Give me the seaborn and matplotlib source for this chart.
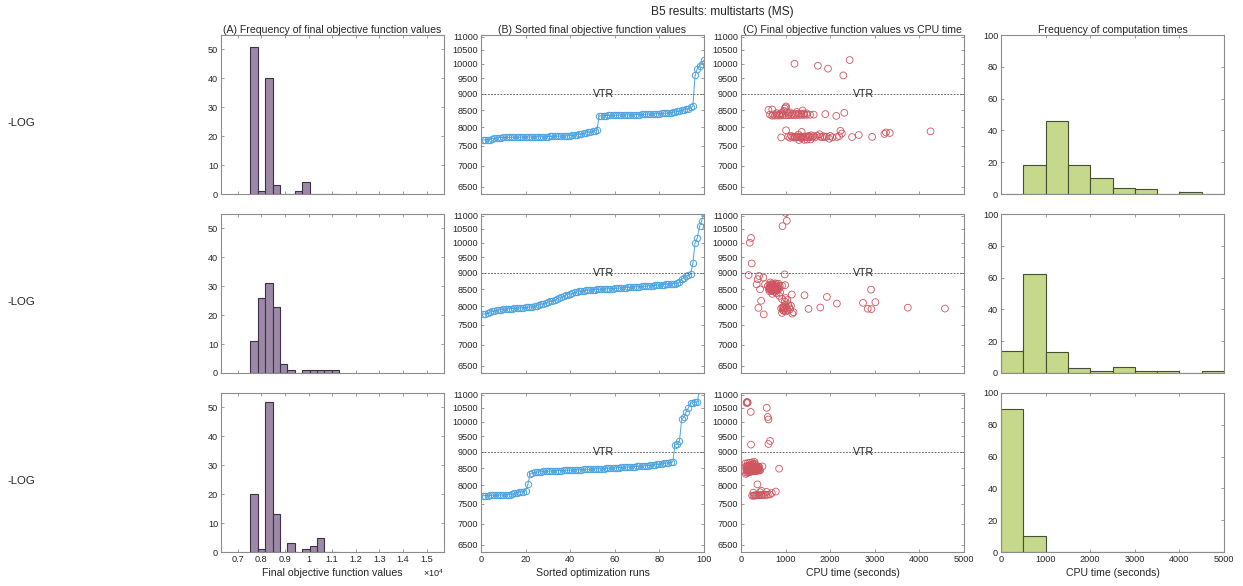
import matplotlib
matplotlib.use("Agg")
import matplotlib.pyplot as plt
import seaborn as sns
from matplotlib.ticker import FixedLocator, FuncFormatter, NullLocator

sns.set_theme(style="white")
plt.rcParams['font.family'] = ['Liberation Sans', 'DejaVu Sans']
plt.rcParams['mathtext.fontset'] = 'custom'
plt.rcParams['mathtext.rm'] = 'Liberation Sans'

# ---------------- data ----------------
suptitle = "B5 results: multistarts (MS)"
row_labels = ["-LOG", "-LOG", "-LOG"]
col_titles = ["(A) Frequency of final objective function values",
              "(B) Sorted final objective function values",
              "(C) Final objective function values vs CPU time",
              "Frequency of computation times"]
xlabels = ["Final objective function values", "Sorted optimization runs",
           "CPU time (seconds)", "CPU time (seconds)"]

# (A) histogram of final objective values: bin edges and counts
obj_bin_edges = [7540, 7853, 8166, 8479, 8792, 9105, 9418, 9731, 10044,
                 10357, 10670, 10983, 11296]
obj_counts_r1 = [51, 1, 40, 3, 0, 0, 1, 4, 0, 0, 0, 0]
obj_counts_r2 = [11, 26, 31, 23, 3, 1, 0, 1, 1, 1, 1, 1]
obj_counts_r3 = [20, 1, 52, 13, 0, 3, 0, 1, 2, 5, 0, 0]
obj_xticks = [7000, 8000, 9000, 10000, 11000, 12000, 13000, 14000, 15000]

# (B)/(C) final objective values (sorted) and their CPU times
runs = list(range(1, 101))
values_r1 = [
    7655, 7660, 7665, 7668, 7690, 7705, 7715, 7720, 7722, 7724,
    7725, 7726, 7727, 7728, 7729, 7730, 7731, 7732, 7733, 7734,
    7735, 7736, 7737, 7738, 7739, 7740, 7742, 7744, 7746, 7748,
    7750, 7752, 7754, 7756, 7758, 7760, 7763, 7766, 7770, 7775,
    7782, 7790, 7800, 7810, 7820, 7832, 7845, 7860, 7875, 7890,
    7905, 7920, 8330, 8335, 8338, 8340, 8342, 8344, 8346, 8348,
    8350, 8352, 8354, 8356, 8358, 8360, 8362, 8364, 8366, 8368,
    8370, 8373, 8376, 8379, 8382, 8385, 8388, 8391, 8394, 8397,
    8400, 8405, 8410, 8415, 8420, 8430, 8445, 8460, 8475, 8490,
    8505, 8520, 8545, 8580, 8610, 9600, 9830, 9930, 10000, 10130]
times_r1 = [
    1300, 1420, 1480, 1560, 1980, 1350, 1100, 1180, 1250, 900,
    1600, 1660, 2050, 1380, 1440, 1210, 1500, 1820, 1880, 2150,
    2490, 1270, 1320, 1150, 2940, 1540, 1060, 1780, 1920, 1400,
    1460, 1240, 1340, 1620, 1850, 2200, 2000, 1520, 1120, 1700,
    1580, 2640, 1290, 1760, 3215, 2260, 3336, 3250, 1360, 4250,
    2230, 1010, 2136, 700, 760, 820, 880, 940, 1000, 1060,
    1120, 1180, 1240, 1300, 1360, 1420, 1480, 1550, 1630, 650,
    720, 790, 860, 930, 1890, 1070, 1150, 1220, 1290, 1350,
    1410, 1470, 800, 900, 2316, 1100, 1250, 1030, 960, 1380,
    615, 700, 980, 1000, 1010, 2294, 1950, 1724, 1200, 2436]

values_r2 = [
    7780, 7800, 7820, 7840, 7860, 7875, 7890, 7900, 7910, 7920,
    7925, 7930, 7935, 7940, 7945, 7950, 7955, 7960, 7965, 7970,
    7975, 7980, 7990, 8000, 8020, 8040, 8060, 8080, 8100, 8120,
    8140, 8160, 8180, 8210, 8240, 8270, 8300, 8320, 8340, 8360,
    8380, 8400, 8420, 8435, 8445, 8455, 8462, 8468, 8474, 8480,
    8485, 8490, 8494, 8498, 8502, 8506, 8510, 8514, 8518, 8522,
    8526, 8530, 8535, 8540, 8545, 8550, 8555, 8560, 8565, 8570,
    8575, 8580, 8585, 8590, 8596, 8602, 8608, 8614, 8620, 8626,
    8632, 8638, 8644, 8650, 8656, 8662, 8668, 8675, 8700, 8800,
    8850, 8900, 8930, 8950, 9300, 10000, 10170, 10600, 10800, 11100]
times_r2 = [
    510, 1150, 920, 1177, 1000, 960, 1050, 940, 980, 1100,
    2924, 1514, 2841, 4573, 900, 1020, 960, 390, 3740, 1777,
    930, 1080, 950, 1010, 1120, 990, 1060, 2150, 2736, 3013,
    980, 450, 1040, 920, 1000, 1926, 860, 1424, 1140, 700,
    800, 880, 760, 640, 720, 690, 780, 820, 660, 740,
    2916, 700, 427, 760, 800, 620, 850, 680, 730, 770,
    640, 700, 790, 830, 660, 720, 750, 810, 690, 760,
    640, 700, 870, 600, 735, 920, 680, 780, 990, 710,
    640, 750, 352, 540, 800, 840, 700, 770, 660, 375,
    502, 405, 170, 980, 240, 195, 225, 930, 1027, 1000]

values_r3 = [
    7715, 7720, 7722, 7724, 7726, 7728, 7730, 7732, 7734, 7736,
    7738, 7740, 7745, 7750, 7790, 7800, 7810, 7820, 7830, 7850,
    8030, 8330, 8360, 8375, 8385, 8390, 8395, 8400, 8404, 8408,
    8412, 8416, 8420, 8423, 8426, 8429, 8432, 8435, 8438, 8441,
    8444, 8447, 8450, 8453, 8456, 8459, 8462, 8465, 8468, 8471,
    8474, 8477, 8480, 8484, 8488, 8492, 8496, 8500, 8504, 8508,
    8512, 8516, 8520, 8524, 8528, 8532, 8536, 8540, 8545, 8550,
    8555, 8560, 8566, 8572, 8578, 8585, 8592, 8600, 8610, 8620,
    8630, 8640, 8650, 8660, 8675, 8690, 9230, 9250, 9350, 10080,
    10170, 10350, 10500, 10680, 10690, 10700, 10720, 11200, 11300, 11500]
times_r3 = [
    250, 280, 300, 320, 340, 360, 390, 420, 450, 480,
    520, 560, 600, 650, 690, 277, 427, 577, 780, 460,
    367, 110, 130, 150, 170, 190, 210, 230, 250, 270,
    290, 310, 330, 350, 370, 390, 410, 430, 120, 140,
    160, 180, 200, 220, 240, 260, 280, 300, 320, 340,
    360, 380, 400, 855, 125, 145, 165, 185, 205, 225,
    245, 265, 285, 305, 325, 345, 365, 385, 405, 480,
    115, 135, 155, 175, 195, 215, 235, 255, 275, 295,
    315, 100, 150, 200, 250, 300, 225, 615, 652, 615,
    600, 217, 577, 127, 150, 140, 135, 120, 130, 160]

vtr = 9000
obj_yticks = [6500, 7000, 7500, 8000, 8500, 9000, 9500, 10000, 10500, 11000]

# (D) histogram of computation times
time_bin_edges = [0, 500, 1000, 1500, 2000, 2500, 3000, 3500, 4000, 4500, 5000]
time_counts_r1 = [0, 18, 46, 18, 10, 4, 3, 0, 1, 0]
time_counts_r2 = [14, 62, 13, 3, 1, 4, 1, 1, 0, 1]
time_counts_r3 = [90, 10, 0, 0, 0, 0, 0, 0, 0, 0]

obj_counts = [obj_counts_r1, obj_counts_r2, obj_counts_r3]
values = [values_r1, values_r2, values_r3]
times = [times_r1, times_r2, times_r3]
time_counts = [time_counts_r1, time_counts_r2, time_counts_r3]

# ---------------- style ----------------
purple_face, purple_edge = "#9d89a6", "#3e3048"
blue = "#4da3df"
red = "#cf5560"
green_face, green_edge = "#c5d88c", "#45512f"
spine_col = "#8c8c8c"
text_col = "#262626"
tick_fs = 6.6
lab_fs = 7.6

W, H = 1243, 586
fig = plt.figure(figsize=(W / 100, H / 100), dpi=100)
col_left = [221, 481, 741, 1001]
row_top = [35, 214, 393]
aw, ah = 223, 159


def make_ax(r, c):
    return fig.add_axes([col_left[c] / W, 1 - (row_top[r] + ah) / H, aw / W, ah / H])


def style(ax, bottom_labels):
    for s in ax.spines.values():
        s.set_visible(True)
        s.set_color(spine_col)
        s.set_linewidth(0.8)
    ax.tick_params(which="both", direction="in", length=2.5, width=0.6,
                   color=spine_col, labelsize=tick_fs, labelcolor=text_col,
                   top=True, right=True, bottom=True, left=True,
                   labelbottom=bottom_labels, pad=2)
    ax.grid(False)
    ax.set_xlabel("")
    ax.set_ylabel("")


plain = FuncFormatter(lambda v, p: f"{v:.0f}")

for r in range(3):
    last = (r == 2)

    # (A)
    ax = make_ax(r, 0)
    sns.histplot(x=obj_bin_edges[:-1], weights=obj_counts[r], bins=obj_bin_edges,
                 ax=ax, color=purple_face, edgecolor=purple_edge, linewidth=0.8, alpha=1)
    style(ax, last)
    ax.set_xlim(6290, 15740)
    ax.set_ylim(0, 55)
    ax.xaxis.set_major_locator(FixedLocator(obj_xticks))
    ax.xaxis.set_major_formatter(FuncFormatter(lambda v, p: f"{v / 1e4:g}"))
    ax.yaxis.set_major_locator(FixedLocator([0, 10, 20, 30, 40, 50]))
    if last:
        ax.set_xlabel(xlabels[0], fontsize=lab_fs, color=text_col, labelpad=3)
        ax.text(1.0, -0.135, r"$\times\mathregular{10^{4}}$", transform=ax.transAxes,
                ha="right", va="center", fontsize=tick_fs, color=text_col)
    if r == 0:
        ax.set_title(col_titles[0], fontsize=lab_fs, color=text_col, pad=1.5)

    # (B)
    ax = make_ax(r, 1)
    sns.lineplot(x=runs, y=values[r], ax=ax, color=blue, linewidth=0.7,
                 marker="o", markersize=4.6, markerfacecolor="none",
                 markeredgecolor=blue, markeredgewidth=0.7, sort=False)
    ax.axhline(vtr, color="#555555", linestyle=(0, (2.2, 1.6)), linewidth=0.6)
    ax.text(50, vtr, "VTR", ha="left", va="center", fontsize=lab_fs, color=text_col)
    ax.set_yscale("log")
    style(ax, last)
    ax.set_xlim(0, 100)
    ax.set_ylim(6335, 11060)
    ax.xaxis.set_major_locator(FixedLocator([0, 20, 40, 60, 80, 100]))
    ax.yaxis.set_major_locator(FixedLocator(obj_yticks))
    ax.yaxis.set_major_formatter(plain)
    ax.yaxis.set_minor_locator(NullLocator())
    if last:
        ax.set_xlabel(xlabels[1], fontsize=lab_fs, color=text_col, labelpad=3)
    if r == 0:
        ax.set_title(col_titles[1], fontsize=lab_fs, color=text_col, pad=1.5)

    # (C)
    ax = make_ax(r, 2)
    sns.scatterplot(x=times[r], y=values[r], ax=ax, marker="o", s=24,
                    facecolor="none", edgecolor=red, linewidth=0.6)
    ax.axhline(vtr, color="#555555", linestyle=(0, (2.2, 1.6)), linewidth=0.6)
    ax.text(2500, vtr, "VTR", ha="left", va="center", fontsize=lab_fs, color=text_col)
    ax.set_yscale("log")
    style(ax, last)
    ax.set_xlim(0, 5000)
    ax.set_ylim(6335, 11060)
    ax.xaxis.set_major_locator(FixedLocator([0, 1000, 2000, 3000, 4000, 5000]))
    ax.yaxis.set_major_locator(FixedLocator(obj_yticks))
    ax.yaxis.set_major_formatter(plain)
    ax.yaxis.set_minor_locator(NullLocator())
    if last:
        ax.set_xlabel(xlabels[2], fontsize=lab_fs, color=text_col, labelpad=3)
    if r == 0:
        ax.set_title(col_titles[2], fontsize=lab_fs, color=text_col, pad=1.5)

    # (D)
    ax = make_ax(r, 3)
    sns.histplot(x=time_bin_edges[:-1], weights=time_counts[r], bins=time_bin_edges,
                 ax=ax, color=green_face, edgecolor=green_edge, linewidth=0.8, alpha=1)
    style(ax, last)
    ax.set_xlim(0, 5000)
    ax.set_ylim(0, 100)
    ax.xaxis.set_major_locator(FixedLocator([0, 1000, 2000, 3000, 4000, 5000]))
    ax.yaxis.set_major_locator(FixedLocator([0, 20, 40, 60, 80, 100]))
    if last:
        ax.set_xlabel(xlabels[3], fontsize=lab_fs, color=text_col, labelpad=3)
    if r == 0:
        ax.set_title(col_titles[3], fontsize=lab_fs, color=text_col, pad=1.5)

    # row label
    fig.text(8 / W, 1 - (row_top[r] + 88) / H, row_labels[r], ha="left", va="center",
             fontsize=8.2, color=text_col)

fig.text(722 / W, 1 - 12 / H, suptitle, ha="center", va="center", fontsize=8.6,
         color=text_col)

fig.savefig("out.png", dpi=100)
